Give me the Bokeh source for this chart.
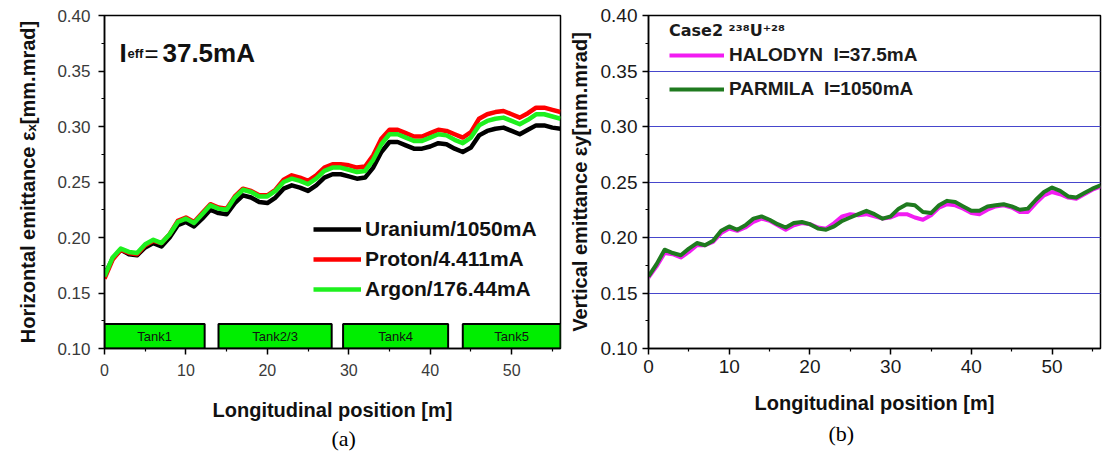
from bokeh.plotting import figure
from bokeh.layouts import row
from bokeh.models import (Range1d, Legend, LegendItem, Label, Title, FixedTicker,
                          ColumnDataSource)
from bokeh.core.properties import value
from bokeh.embed import file_html
from bokeh.resources import INLINE

# ---------------- data ----------------
pos_m = [0, 1, 2, 3, 4, 5, 6, 7, 8, 9, 10, 11, 12, 13, 14, 15, 16, 17, 18, 19,
         20, 21, 22, 23, 24, 25, 26, 27, 28, 29, 30, 31, 32, 33, 34, 35, 36, 37, 38, 39,
         40, 41, 42, 43, 44, 45, 46, 47, 48, 49, 50, 51, 52, 53, 54, 55, 56]

uranium = [0.166, 0.181, 0.189, 0.185, 0.184, 0.191, 0.195, 0.192, 0.200, 0.211,
           0.214, 0.210, 0.217, 0.225, 0.222, 0.221, 0.231, 0.238, 0.236, 0.232,
           0.231, 0.236, 0.244, 0.247, 0.245, 0.242, 0.247, 0.254, 0.257, 0.257,
           0.255, 0.253, 0.254, 0.263, 0.277, 0.286, 0.286, 0.283, 0.280, 0.280,
           0.282, 0.285, 0.284, 0.280, 0.277, 0.281, 0.292, 0.296, 0.298, 0.299,
           0.296, 0.293, 0.297, 0.301, 0.301, 0.299, 0.298]

proton = [0.163, 0.180, 0.189, 0.186, 0.185, 0.193, 0.197, 0.195, 0.203, 0.215,
          0.218, 0.214, 0.222, 0.230, 0.227, 0.226, 0.237, 0.244, 0.242, 0.238,
          0.238, 0.243, 0.252, 0.256, 0.254, 0.251, 0.256, 0.263, 0.266, 0.266,
          0.265, 0.263, 0.264, 0.274, 0.289, 0.297, 0.297, 0.294, 0.291, 0.291,
          0.294, 0.297, 0.296, 0.293, 0.290, 0.295, 0.307, 0.311, 0.313, 0.314,
          0.311, 0.308, 0.312, 0.317, 0.317, 0.315, 0.313]

argon = [0.165, 0.182, 0.190, 0.187, 0.186, 0.194, 0.198, 0.195, 0.203, 0.214,
         0.217, 0.213, 0.221, 0.229, 0.226, 0.225, 0.236, 0.243, 0.241, 0.237,
         0.237, 0.242, 0.250, 0.253, 0.251, 0.248, 0.253, 0.260, 0.263, 0.263,
         0.261, 0.259, 0.260, 0.270, 0.284, 0.293, 0.293, 0.290, 0.287, 0.287,
         0.290, 0.293, 0.292, 0.288, 0.285, 0.290, 0.301, 0.305, 0.307, 0.308,
         0.305, 0.302, 0.306, 0.311, 0.311, 0.309, 0.307]

halodyn = [0.164, 0.174, 0.186, 0.185, 0.182, 0.187, 0.193, 0.193, 0.196, 0.204,
           0.208, 0.206, 0.209, 0.214, 0.217, 0.215, 0.211, 0.207, 0.211, 0.213,
           0.212, 0.209, 0.208, 0.213, 0.219, 0.221, 0.220, 0.221, 0.219, 0.217,
           0.218, 0.221, 0.221, 0.218, 0.216, 0.220, 0.227, 0.230, 0.229, 0.226,
           0.222, 0.221, 0.225, 0.228, 0.229, 0.227, 0.223, 0.223, 0.231, 0.238,
           0.241, 0.239, 0.236, 0.235, 0.239, 0.243, 0.246]

parmila = [0.165, 0.176, 0.189, 0.186, 0.184, 0.190, 0.195, 0.193, 0.197, 0.206,
           0.210, 0.207, 0.211, 0.217, 0.219, 0.216, 0.212, 0.209, 0.213, 0.214,
           0.212, 0.208, 0.207, 0.210, 0.215, 0.218, 0.221, 0.224, 0.221, 0.217,
           0.219, 0.226, 0.230, 0.229, 0.223, 0.222, 0.229, 0.233, 0.232, 0.228,
           0.224, 0.224, 0.228, 0.229, 0.230, 0.228, 0.225, 0.226, 0.234, 0.241,
           0.245, 0.242, 0.237, 0.236, 0.240, 0.244, 0.247]

tank_names = ["Tank1", "Tank2/3", "Tank4", "Tank5"]
tank_start = [0.0, 14.0, 29.3, 44.0]
tank_end = [12.3, 27.9, 42.2, 56.0]
tank_bottom = 0.100
tank_top = 0.122

x_ticks = [0, 10, 20, 30, 40, 50]
x_minor = [5, 15, 25, 35, 45, 55]
y_ticks = [0.10, 0.15, 0.20, 0.25, 0.30, 0.35, 0.40]
y_tick_labels = ["0.10", "0.15", "0.20", "0.25", "0.30", "0.35", "0.40"]
y_minor = [0.125, 0.175, 0.225, 0.275, 0.325, 0.375]
grid_levels = [0.15, 0.20, 0.25, 0.30, 0.35]

FONT = "Liberation Sans"


def style_axes(p, tick_px_x, tick_px_y, tick_color, xstand, ystand, xlab_px, ylab_px):
    p.xaxis.ticker = FixedTicker(ticks=x_ticks, minor_ticks=x_minor)
    p.yaxis.ticker = FixedTicker(ticks=y_ticks, minor_ticks=y_minor)
    p.yaxis.major_label_overrides = {t: l for t, l in zip(y_ticks, y_tick_labels)}
    for ax in (p.xaxis[0], p.yaxis[0]):
        ax.axis_line_width = 1.5
        ax.axis_line_color = "black"
        ax.major_tick_line_width = 1.5
        ax.minor_tick_line_width = 1.2
        ax.major_tick_in = 0
        ax.major_tick_out = 6
        ax.minor_tick_in = 0
        ax.minor_tick_out = 3
        ax.major_label_text_font = FONT
        ax.major_label_text_color = tick_color
        ax.axis_label_text_font = FONT
        ax.axis_label_text_font_style = "bold"
        ax.axis_label_text_color = "#111111"
    p.xaxis.axis_label_text_font_size = xlab_px
    p.yaxis.axis_label_text_font_size = ylab_px
    p.xaxis.major_label_text_font_size = tick_px_x
    p.yaxis.major_label_text_font_size = tick_px_y
    p.xaxis.axis_label_standoff = xstand
    p.yaxis.axis_label_standoff = ystand
    p.outline_line_color = "black"
    p.outline_line_width = 1.5
    p.outline_line_alpha = 1.0


# ---------------- panel (a) ----------------
p1 = figure(width=565, height=455, x_range=Range1d(0, 56), y_range=Range1d(0.10, 0.40),
            output_backend="svg", toolbar_location=None,
            min_border_left=104, min_border_right=5, min_border_top=15,
            min_border_bottom=102, background_fill_color="white",
            border_fill_color="white")
p1.grid.visible = False
p1.xaxis.axis_label = "Longitudinal position [m]"
p1.yaxis.axis_label = "Horizontal emittance \u03b5\u2093[mm.mrad]"
style_axes(p1, "16px", "17px", "#3a3a3a", 20, 15, "20px", "20px")
p1.xaxis.major_label_standoff = 9
p1.yaxis.major_label_standoff = 8

src1 = ColumnDataSource(dict(x=pos_m, u=uranium, p=proton, a=argon))
r_u = p1.line("x", "u", source=src1, line_color="black", line_width=4.5, line_join="round")
r_p = p1.line("x", "p", source=src1, line_color="#ff0000", line_width=4.5, line_join="round")
r_a = p1.line("x", "a", source=src1, line_color="#1ef01e", line_width=4.5, line_join="round")

tank_src = ColumnDataSource(dict(
    left=tank_start, right=tank_end,
    bottom=[tank_bottom] * len(tank_names), top=[tank_top] * len(tank_names),
    cx=[(a + b) / 2 for a, b in zip(tank_start, tank_end)],
    cy=[(tank_bottom + tank_top) / 2 for _ in tank_names],
    name=tank_names))
p1.quad(left="left", right="right", bottom="bottom", top="top", source=tank_src,
        fill_color="#00ee00", line_color="black", line_width=2)
p1.text(x="cx", y="cy", text="name", source=tank_src, text_align="center",
        text_baseline="middle", text_font=value(FONT), text_font_size="13px",
        text_color="#111111")

leg1 = Legend(items=[LegendItem(label="Uranium/1050mA", renderers=[r_u]),
                     LegendItem(label="Proton/4.411mA", renderers=[r_p]),
                     LegendItem(label="Argon/176.44mA", renderers=[r_a])],
              location=(209, 47), padding=0, margin=0, spacing=6,
              glyph_width=48, glyph_height=22, label_height=22, label_standoff=4,
              label_text_font=FONT, label_text_font_style="bold",
              label_text_font_size="21px", label_text_color="#111111",
              border_line_color=None, background_fill_alpha=0)
p1.add_layout(leg1)

for txt, xx, size, style in [("I", 1.84, "26px", "bold"), ("eff", 2.82, "13px", "bold"),
                             ("=", 4.91, "24px", "normal"), ("37.5mA", 7.12, "26px", "bold")]:
    p1.add_layout(Label(x=xx, y=0.366, text=txt, text_font=FONT, text_font_size=size,
                        text_font_style=style, text_baseline="alphabetic",
                        text_color="#111111"))

p1.add_layout(Title(text="(a)", align="left", offset=227, text_font="Liberation Serif",
                    text_font_size="22px", text_font_style="normal", standoff=0,
                    text_color="black"), "below")

# ---------------- panel (b) ----------------
p2 = figure(width=537, height=455, x_range=Range1d(0, 56), y_range=Range1d(0.10, 0.40),
            output_backend="svg", toolbar_location=None,
            min_border_left=82, min_border_right=2, min_border_top=14,
            min_border_bottom=107, background_fill_color="white",
            border_fill_color="white")
p2.xgrid.visible = False
p2.ygrid.ticker = FixedTicker(ticks=grid_levels)
p2.ygrid.grid_line_color = "#4646cc"
p2.ygrid.grid_line_width = 1.2
p2.xaxis.axis_label = "Longitudinal position [m]"
p2.yaxis.axis_label = "Vertical emittance \u03b5y[mm.mrad]"
style_axes(p2, "19px", "19px", "#1a1a1a", 16, 7, "20px", "20px")
p2.xaxis.major_label_standoff = 5
p2.yaxis.major_label_standoff = 5

src2 = ColumnDataSource(dict(x=pos_m, h=halodyn, m=parmila))
r_h = p2.line("x", "h", source=src2, line_color="#f21cf2", line_width=4, line_join="round")
r_m = p2.line("x", "m", source=src2, line_color="#1f7a1f", line_width=4, line_join="round")

leg2 = Legend(title="Case2 \u00b2\u00b3\u2078U\u207a\u00b2\u2078",
              items=[LegendItem(label="HALODYN  I=37.5mA", renderers=[r_h]),
                     LegendItem(label="PARMILA  I=1050mA", renderers=[r_m])],
              location=(21, 248), padding=0, margin=0, spacing=12,
              glyph_width=55, glyph_height=20, label_height=20, label_standoff=5,
              title_standoff=4, title_text_font="DejaVu Sans", title_text_font_style="bold",
              title_text_font_size="16px", title_text_color="#1a1a1a",
              label_text_font=FONT, label_text_font_style="bold",
              label_text_font_size="19px", label_text_color="#1a1a1a",
              border_line_color=None, background_fill_alpha=0)
p2.add_layout(leg2)

p2.add_layout(Title(text="(b)", align="left", offset=180, text_font="Liberation Serif",
                    text_font_size="22px", text_font_style="normal", standoff=4,
                    text_color="black"), "below")

layout = row(p1, p2)
open("out.html", "w").write(file_html(layout, INLINE))
